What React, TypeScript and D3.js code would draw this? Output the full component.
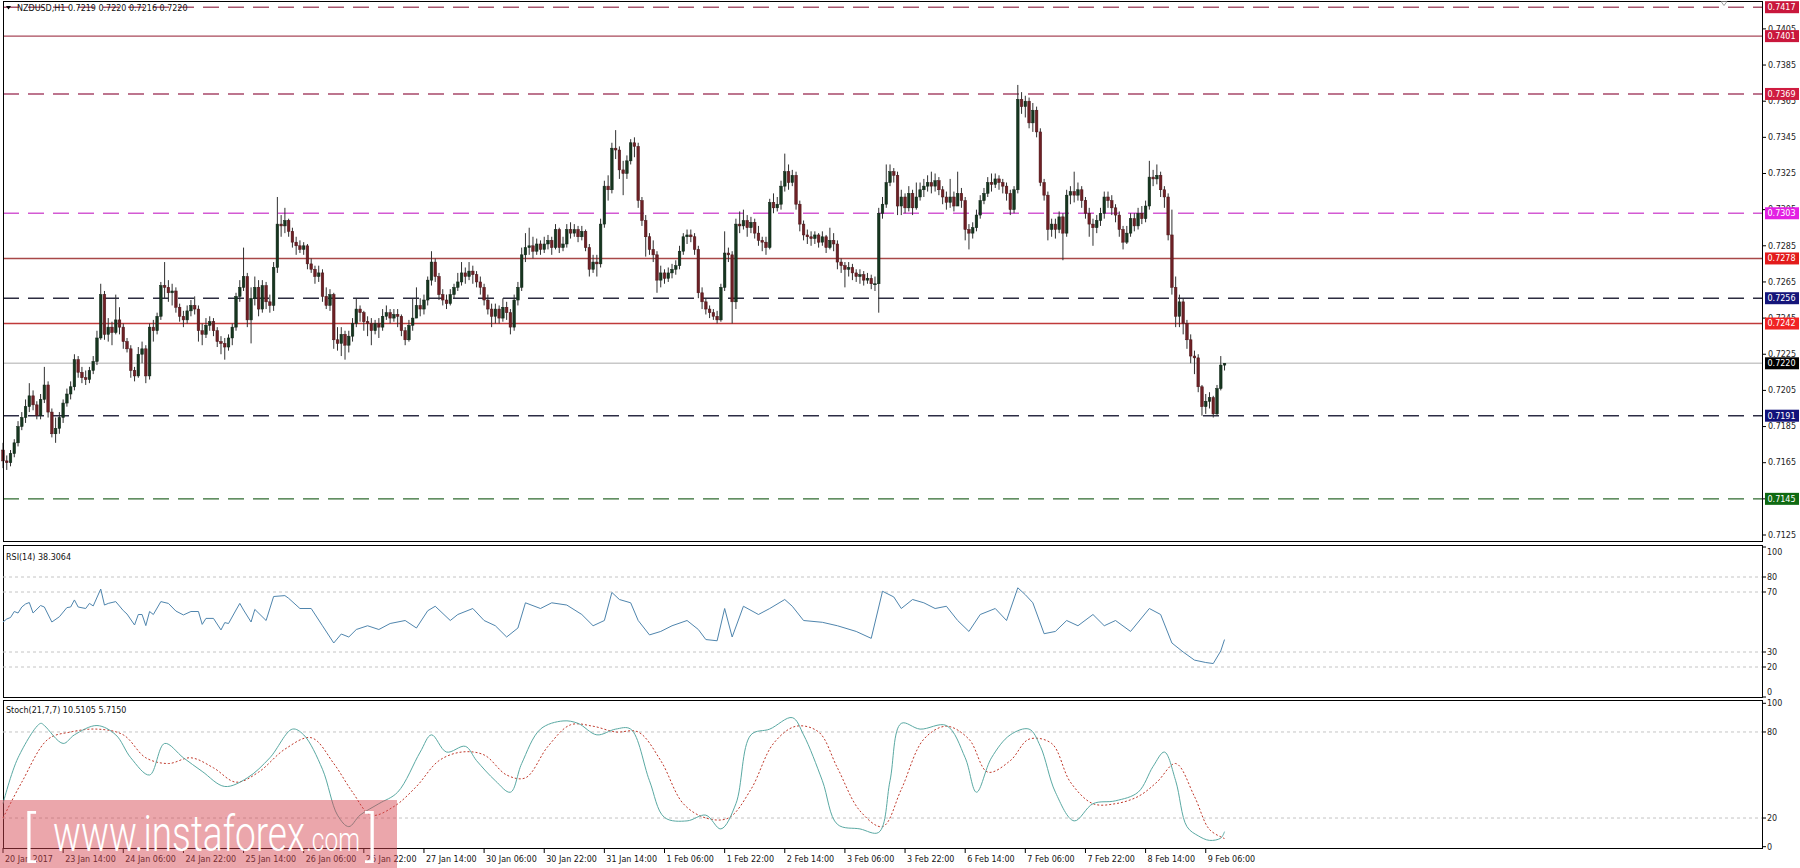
import React from 'react';
import * as d3 from 'd3';

// prices in pips (7220 = 0.7220); each candle opens at the previous close
const firstOpen = 7172;
const closePips = [
  7166, 7165, 7170, 7176, 7185, 7190, 7196, 7202, 7197, 7191,
  7200, 7208, 7193, 7181, 7184, 7190, 7198, 7203, 7207, 7222,
  7215, 7212, 7211, 7216, 7221, 7234, 7258, 7236, 7240, 7237,
  7244, 7240, 7232, 7228, 7216, 7213, 7225, 7228, 7213, 7240,
  7238, 7246, 7263, 7262, 7259, 7260, 7251, 7246, 7244, 7249,
  7252, 7250, 7238, 7236, 7241, 7243, 7238, 7232, 7231, 7229,
  7234, 7240, 7257, 7262, 7268, 7244, 7256, 7262, 7250, 7263,
  7254, 7252, 7273, 7297, 7296, 7299, 7293, 7287, 7285, 7283,
  7285, 7275, 7272, 7268, 7270, 7257, 7252, 7258, 7233, 7231,
  7236, 7230, 7235, 7242, 7250, 7248, 7243, 7242, 7238, 7242,
  7240, 7246, 7248, 7245, 7247, 7246, 7238, 7233, 7241, 7245,
  7252, 7250, 7255, 7266, 7276, 7268, 7258, 7255, 7253, 7258,
  7262, 7265, 7270, 7268, 7271, 7269, 7265, 7262, 7255, 7250,
  7246, 7250, 7245, 7251, 7248, 7240, 7255, 7262, 7280, 7284,
  7285, 7282, 7286, 7283, 7286, 7288, 7284, 7294, 7284, 7286,
  7294, 7292, 7294, 7290, 7293, 7284, 7272, 7276, 7275, 7297,
  7318, 7316, 7339, 7338, 7327, 7325, 7332, 7342, 7340, 7310,
  7299, 7290, 7283, 7280, 7266, 7270, 7267, 7270, 7272, 7274,
  7282, 7290, 7291, 7290, 7283, 7259, 7254, 7250, 7248, 7246,
  7244, 7262, 7281, 7280, 7254, 7297, 7296, 7299, 7295, 7298,
  7292, 7288, 7287, 7284, 7309, 7306, 7308, 7318, 7326, 7320,
  7324, 7308, 7297, 7291, 7290, 7289, 7291, 7287, 7290, 7284,
  7288, 7286, 7276, 7274, 7272, 7273, 7270, 7268, 7269, 7266,
  7267, 7264, 7264, 7303, 7308, 7320, 7326, 7324, 7307, 7312,
  7306, 7314, 7306, 7312, 7316, 7318, 7320, 7318, 7321, 7316,
  7312, 7309, 7312, 7307, 7314, 7310, 7294, 7292, 7295, 7302,
  7310, 7314, 7320, 7319, 7322, 7320, 7318, 7314, 7305, 7316,
  7366, 7362, 7365, 7353, 7360, 7348, 7320, 7313, 7294, 7297,
  7294, 7301, 7292, 7313, 7315, 7313, 7316, 7310, 7303, 7297,
  7295, 7299, 7303, 7312, 7310, 7306, 7302, 7294, 7287, 7292,
  7300, 7296, 7303, 7300, 7307, 7323, 7322, 7324, 7316, 7312,
  7291, 7262, 7246, 7254, 7242, 7233, 7224, 7223, 7207, 7196,
  7199, 7201, 7192, 7206, 7219, 7220,
];
const highPips = [
  7176, 7169, 7172, 7178, 7188, 7193, 7200, 7209, 7205, 7199,
  7203, 7218, 7210, 7195, 7190, 7193, 7200, 7206, 7210, 7225,
  7224, 7218, 7216, 7218, 7224, 7238, 7264, 7260, 7245, 7243,
  7258, 7251, 7242, 7234, 7230, 7218, 7229, 7232, 7230, 7242,
  7244, 7248, 7265, 7276, 7266, 7264, 7262, 7253, 7249, 7252,
  7255, 7257, 7252, 7242, 7245, 7246, 7245, 7240, 7235, 7234,
  7236, 7242, 7259, 7266, 7284, 7270, 7262, 7268, 7266, 7266,
  7265, 7258, 7276, 7312, 7302, 7306, 7300, 7295, 7290, 7288,
  7287, 7286, 7278, 7274, 7274, 7272, 7262, 7261, 7259, 7240,
  7240, 7238, 7238, 7245, 7256, 7252, 7249, 7246, 7245, 7244,
  7245, 7250, 7252, 7250, 7250, 7250, 7247, 7240, 7244, 7256,
  7262, 7256, 7258, 7268, 7282, 7278, 7270, 7261, 7258, 7261,
  7264, 7270, 7276, 7273, 7276, 7274, 7271, 7268, 7264, 7258,
  7253, 7253, 7252, 7256, 7254, 7250, 7258, 7265, 7284, 7292,
  7295, 7290, 7289, 7288, 7290, 7291, 7290, 7297, 7295, 7290,
  7297, 7298, 7297, 7296, 7296, 7294, 7286, 7280, 7280, 7300,
  7321, 7324, 7342, 7349, 7340, 7332, 7335, 7344, 7345, 7342,
  7312, 7302, 7292, 7288, 7282, 7274, 7272, 7273, 7275, 7277,
  7285, 7292, 7294, 7294, 7292, 7285, 7262, 7256, 7252, 7250,
  7249, 7264, 7293, 7284, 7282, 7300, 7304, 7305, 7302, 7301,
  7300, 7296, 7290, 7290, 7311, 7314, 7312, 7321, 7336, 7330,
  7327, 7326, 7310, 7299, 7294, 7293, 7293, 7292, 7293, 7291,
  7295, 7292, 7288, 7278, 7276, 7276, 7275, 7272, 7272, 7271,
  7270, 7269, 7268, 7306, 7312, 7330, 7330, 7328, 7326, 7316,
  7314, 7318, 7316, 7320, 7320, 7322, 7324, 7326, 7325, 7323,
  7318, 7315, 7322, 7315, 7326, 7317, 7312, 7297, 7298, 7305,
  7313, 7317, 7323, 7325, 7325, 7324, 7322, 7320, 7316, 7318,
  7374, 7370, 7368, 7367, 7364, 7362, 7350, 7322, 7315, 7300,
  7300, 7304, 7303, 7316, 7318, 7326, 7320, 7318, 7312, 7306,
  7300, 7302, 7306, 7315, 7315, 7313, 7308, 7304, 7296, 7296,
  7303, 7303, 7306, 7307, 7310, 7332, 7327, 7330, 7326, 7318,
  7314, 7305, 7268, 7258, 7256, 7244, 7236, 7227, 7225, 7208,
  7203, 7204, 7202, 7208, 7224, 7220,
];
const lowPips = [
  7162, 7161, 7163, 7168, 7174, 7183, 7187, 7193, 7194, 7189,
  7189, 7198, 7190, 7179, 7176, 7181, 7187, 7196, 7200, 7205,
  7212, 7209, 7208, 7209, 7214, 7219, 7233, 7233, 7232, 7230,
  7236, 7236, 7228, 7226, 7212, 7210, 7212, 7220, 7209, 7211,
  7232, 7236, 7244, 7256, 7254, 7252, 7248, 7243, 7240, 7242,
  7246, 7247, 7232, 7230, 7234, 7238, 7235, 7229, 7225, 7222,
  7227, 7230, 7238, 7254, 7260, 7240, 7231, 7252, 7246, 7248,
  7250, 7248, 7249, 7270, 7290, 7292, 7290, 7284, 7280, 7281,
  7280, 7272, 7270, 7264, 7265, 7254, 7250, 7249, 7228, 7227,
  7224, 7222, 7226, 7232, 7240, 7243, 7238, 7235, 7230, 7236,
  7234, 7238, 7244, 7242, 7243, 7240, 7235, 7230, 7232, 7238,
  7248, 7246, 7247, 7252, 7263, 7265, 7255, 7252, 7250, 7252,
  7256, 7260, 7263, 7264, 7266, 7264, 7262, 7258, 7252, 7247,
  7240, 7242, 7242, 7243, 7244, 7236, 7238, 7252, 7260, 7276,
  7280, 7278, 7280, 7280, 7281, 7283, 7280, 7283, 7281, 7282,
  7284, 7289, 7290, 7287, 7288, 7282, 7268, 7270, 7268, 7273,
  7295, 7310, 7314, 7333, 7322, 7313, 7322, 7330, 7334, 7306,
  7296, 7279, 7280, 7276, 7259, 7262, 7264, 7265, 7267, 7269,
  7272, 7280, 7286, 7287, 7280, 7256, 7250, 7247, 7245, 7244,
  7242, 7243, 7260, 7276, 7242, 7250, 7292, 7294, 7290, 7292,
  7289, 7285, 7282, 7280, 7283, 7303, 7304, 7305, 7315, 7316,
  7318, 7305, 7293, 7288, 7286, 7285, 7286, 7284, 7285, 7281,
  7283, 7282, 7272, 7270, 7262, 7268, 7266, 7265, 7264, 7263,
  7264, 7261, 7260, 7248, 7300, 7306, 7318, 7320, 7302, 7302,
  7303, 7304, 7302, 7305, 7310, 7312, 7315, 7314, 7315, 7313,
  7308, 7305, 7306, 7304, 7309, 7306, 7288, 7283, 7289, 7293,
  7300, 7308, 7312, 7315, 7317, 7316, 7314, 7310, 7302, 7303,
  7314, 7358, 7356, 7350, 7348, 7345, 7318, 7310, 7288, 7290,
  7289, 7292, 7277, 7290, 7308, 7309, 7310, 7306, 7300, 7290,
  7285, 7292, 7296, 7300, 7306, 7302, 7298, 7290, 7283, 7286,
  7290, 7293, 7294, 7297, 7298, 7305, 7318, 7319, 7312, 7306,
  7288, 7258, 7240, 7240, 7236, 7228, 7220, 7214, 7204, 7191,
  7192, 7195, 7190, 7191, 7205, 7216,
];

// one time label every 16 hourly bars
const timeLabels = [
  '20 Jan 2017', '23 Jan 14:00', '24 Jan 06:00', '24 Jan 22:00', '25 Jan 14:00',
  '26 Jan 06:00', '26 Jan 22:00', '27 Jan 14:00', '30 Jan 06:00', '30 Jan 22:00',
  '31 Jan 14:00', '1 Feb 06:00', '1 Feb 22:00', '2 Feb 14:00', '3 Feb 06:00',
  '3 Feb 22:00', '6 Feb 14:00', '7 Feb 06:00', '7 Feb 22:00', '8 Feb 14:00',
  '9 Feb 06:00',
];
const barsPerLabel = 16;

const priceTicks = [0.7405, 0.7385, 0.7365, 0.7345, 0.7325, 0.7305, 0.7285, 0.7265,
  0.7245, 0.7225, 0.7205, 0.7185, 0.7165, 0.7145, 0.7125];

const levelPrices = [0.7417, 0.7401, 0.7369, 0.7303, 0.7278, 0.7256, 0.7242, 0.7220, 0.7191, 0.7145];
const levelStyles = [
  { line: '#a8566e', dash: '16,9', box: '#c9173c' },
  { line: '#a8485a', dash: '', box: '#c9173c' },
  { line: '#a8486a', dash: '16,9', box: '#cf1c40' },
  { line: '#d35ad3', dash: '16,9', box: '#e31fe3' },
  { line: '#a84848', dash: '', box: '#e31b1b' },
  { line: '#2c2c40', dash: '16,9', box: '#15157a' },
  { line: '#c03a3a', dash: '', box: '#f02424' },
  { line: '#c8c8c8', dash: '', box: '#000000' },
  { line: '#2c2c44', dash: '16,9', box: '#12127a' },
  { line: '#2f6b2f', dash: '16,9', box: '#0f6a12' },
];

const rsiBars = [0, 1, 2, 3, 4, 5, 6, 7, 8, 10, 11, 13, 15, 17, 18, 19, 20, 22, 23, 24, 26, 27, 28, 30, 32, 33, 35, 36, 37, 38, 39, 40, 42, 44, 46, 48, 50, 52, 53, 54, 56, 58, 59, 60, 62, 63, 64, 66, 67, 70, 72, 75, 76, 79,
  82, 85, 88, 90, 92, 94, 97, 100, 103, 107, 110, 113, 115, 119, 121, 125, 128, 131, 134, 137, 139, 143, 146, 150, 154, 157, 160, 162, 164, 167, 169, 172, 175, 178, 182, 185, 187, 190, 192, 194, 197, 201, 204, 208, 210, 213, 218, 222, 227, 231, 234, 237, 239, 242, 245, 248, 251, 254, 257, 260, 264, 267, 270, 272, 274, 277, 280, 283, 286, 290, 293, 296, 300, 305, 308, 311, 314, 317, 320, 322, 324, 325];
const rsiValues = [50, 52, 53, 57, 56, 60, 62, 63, 56, 61, 60, 50, 53.5, 59.6, 60, 64.7, 60, 59, 62.4, 60.7, 72, 61.3, 62.4, 63.6, 57.6, 55.3, 48, 55, 55, 47.6, 57, 55, 63.6, 62.4, 57.3, 54.7, 57, 57, 48.4, 52.4, 52.4, 44.7, 49.6, 49, 58, 62.4, 58, 50, 58.4, 51, 67, 67.6, 65.8, 59,
  59, 47.5, 36, 42, 40, 45, 47.5, 45, 49, 51, 46, 57.5, 60.5, 51, 55, 59, 51, 47.5, 40, 46, 62.8, 59, 62.8, 61.3, 55, 47.5, 51, 69.7, 65, 62.8, 51, 41.4, 43.7, 47.5, 51, 45, 38.3, 37.5, 59, 40, 60.5, 55, 59, 65, 60.5, 51, 49.8, 47.5, 43.7, 39.1, 70.5, 66.7, 59, 65, 62.8, 59, 60.5, 51, 43.7, 55, 59, 51, 72.8, 68.2, 62.8, 42.2, 43.7, 51, 47.5, 55, 47.5, 51, 43.7, 59, 55, 36, 30, 24.6, 23, 22.3, 30.7, 38.3];
const rsiLevels = [80, 70, 30, 20];
const rsiAxis = [100, 80, 70, 30, 20, 0];

const stochBars = [0, 4, 10, 11, 16, 19, 25, 30, 34, 39, 43, 48, 53, 59, 65, 71, 77, 80, 85, 89, 92, 95, 100, 105, 111, 114, 118, 123, 126, 131, 135, 138, 143, 149, 153, 158, 163, 167, 172, 176, 182, 187, 191, 195, 199, 204, 210, 213, 218, 222, 228, 233, 236, 239, 244, 251, 256, 259, 263, 268, 273, 276, 280, 285, 290, 296, 302, 306, 309, 312, 315, 318, 321, 324, 325];
const stochMain = [30, 62, 86, 84.5, 72, 78, 84.5, 78, 62, 50, 72, 62, 52.5, 42, 48, 62, 82, 78, 54, 22, 14, 22, 30, 38, 66, 78, 66, 70, 60, 46, 38, 58, 82, 87.7, 86, 78, 82, 82, 46, 20.4, 18, 22, 12.4, 30, 78, 82, 90, 78, 46, 15.6, 12.4, 10, 46, 86, 82, 84.5, 62, 38, 62, 78, 82, 70, 38, 18, 30, 32, 38, 56, 66, 46, 14, 7.6, 4.4, 6, 10.5];
const signalBars = [0, 5, 12, 18, 25, 32, 38, 44, 50, 56, 62, 68, 75, 82, 88, 93, 98, 104, 110, 116, 122, 128, 134, 139, 145, 151, 157, 163, 169, 175, 181, 187, 193, 199, 205, 211, 217, 222, 228, 234, 239, 245, 251, 257, 262, 268, 273, 279, 284, 290, 296, 302, 307, 312, 317, 321, 325];
const stochSignal = [20, 45, 75, 80, 82, 78, 62, 58, 62, 55, 45, 52, 68, 76, 58, 38, 22, 28, 42, 60, 66, 64, 50, 48, 70, 85, 84, 80, 80, 60, 30, 20, 20, 40, 72, 84, 80, 55, 25, 14, 40, 75, 84, 75, 52, 60, 75, 72, 45, 30, 30, 35, 45, 58, 35, 12, 5.7];
const stochLevels = [80, 20];
const stochAxis = [100, 80, 20, 0];

const FONT = "'DejaVu Sans', Verdana, sans-serif";

const App: React.FC = () => {
  const W = 1800;
  const H = 868;
  const left = 3;
  const right = 1762;
  const main = { top: 1, bottom: 541 };
  const rsiBox = { top: 545, bottom: 697 };
  const stBox = { top: 700, bottom: 848 };

  const x = d3.scaleLinear().domain([0, 468]).range([left, right]);
  const yP = d3.scaleLinear().domain([0.7125, 0.7417]).range([535, 7.2]);
  const yR = d3.scaleLinear().domain([0, 100]).range([697, 547]);
  const yS = d3.scaleLinear().domain([0, 100]).range([846.7, 703.3]);

  const candles = closePips.map((c, i) => ({
    i,
    o: (i === 0 ? firstOpen : closePips[i - 1]) / 10000,
    h: highPips[i] / 10000,
    l: lowPips[i] / 10000,
    c: c / 10000,
  }));

  const rsiLine = d3.line<number>().x((_, i) => x(rsiBars[i])).y((v) => yR(v));
  const mainLine = d3.line<number>().x((_, i) => x(stochBars[i])).y((v) => yS(v)).curve(d3.curveCatmullRom);
  const sigLine = d3.line<number>().x((_, i) => x(signalBars[i])).y((v) => yS(v)).curve(d3.curveCatmullRom);

  const bodyW = 2.6;
  const fs = 8;

  return (
    <svg width={W} height={H} style={{ position: 'absolute', left: 0, top: 0, background: '#fff' }}
      fontFamily={FONT}>
      <rect x={0} y={0} width={W} height={H} fill="#fff" />

      {/* price levels */}
      {levelPrices.map((p, k) => (
        <line key={'lv' + k} x1={left} x2={right} y1={yP(p)} y2={yP(p)}
          stroke={levelStyles[k].line} strokeWidth={1.4}
          strokeDasharray={levelStyles[k].dash || undefined} />
      ))}

      {/* candles */}
      {candles.map((d) => {
        const cx = x(d.i);
        const up = d.c >= d.o;
        const top = yP(Math.max(d.o, d.c));
        const bot = yP(Math.min(d.o, d.c));
        return (
          <g key={'c' + d.i}>
            <line x1={cx} x2={cx} y1={yP(d.h)} y2={yP(d.l)} stroke="#303030" strokeWidth={1} />
            <rect x={cx - bodyW / 2} y={top} width={bodyW} height={Math.max(1, bot - top)}
              fill={up ? '#16361f' : '#6e2025'} stroke={up ? '#0f2416' : '#4a1518'} strokeWidth={0.5} />
          </g>
        );
      })}

      {/* panel frames */}
      <rect x={left + 0.5} y={main.top + 0.5} width={right - left} height={main.bottom - main.top}
        fill="none" stroke="#000" strokeWidth={1} />
      <rect x={left + 0.5} y={rsiBox.top + 0.5} width={right - left} height={rsiBox.bottom - rsiBox.top}
        fill="none" stroke="#000" strokeWidth={1} />
      <rect x={left + 0.5} y={stBox.top + 0.5} width={right - left} height={stBox.bottom - stBox.top}
        fill="none" stroke="#000" strokeWidth={1} />

      {/* header */}
      <path d="M6,6 L11,6 L8.5,9.5 Z" fill="#000" />
      <text x={17} y={11} fontSize={fs} fill="#111">NZDUSD,H1 0.7219 0.7220 0.7216 0.7220</text>
      <path d="M1721,1.5 L1727,1.5 L1724,5.5 Z" fill="none" stroke="#888" strokeWidth={0.8} />

      {/* price axis */}
      {priceTicks.map((p) => (
        <g key={'pt' + p}>
          <line x1={right} x2={right + 4} y1={yP(p)} y2={yP(p)} stroke="#000" />
          <text x={right + 6} y={yP(p)} dy="0.35em" fontSize={fs} fill="#222">{p.toFixed(4)}</text>
        </g>
      ))}
      {levelPrices.map((p, k) => (
        <g key={'lb' + k}>
          <rect x={1765} y={yP(p) - 6} width={34} height={12} fill={levelStyles[k].box} />
          <text x={1767.5} y={yP(p)} dy="0.35em" fontSize={fs} fill="#fff">{p.toFixed(4)}</text>
        </g>
      ))}

      {/* RSI */}
      {rsiLevels.map((v) => (
        <line key={'rl' + v} x1={left} x2={right} y1={yR(v)} y2={yR(v)} stroke="#c4c4c4" strokeDasharray="3,3" />
      ))}
      <path d={rsiLine(rsiValues) || ''} fill="none" stroke="#4f85ad" strokeWidth={1} />
      <text x={6} y={560} fontSize={fs} fill="#111">RSI(14) 38.3064</text>
      {rsiAxis.map((v) => (
        <g key={'ra' + v}>
          <line x1={right} x2={right + 4} y1={yR(v)} y2={yR(v)} stroke="#000" />
          <text x={right + 5} y={Math.min(Math.max(yR(v), 552), 692)} dy="0.35em" fontSize={fs} fill="#222">{v}</text>
        </g>
      ))}

      {/* Stochastic */}
      {stochLevels.map((v) => (
        <line key={'sl' + v} x1={left} x2={right} y1={yS(v)} y2={yS(v)} stroke="#c4c4c4" strokeDasharray="3,3" />
      ))}
      <path d={sigLine(stochSignal) || ''} fill="none" stroke="#c0392b" strokeWidth={1} strokeDasharray="2,2" />
      <path d={mainLine(stochMain) || ''} fill="none" stroke="#5aa9a3" strokeWidth={1} />
      <text x={6} y={713} fontSize={fs} fill="#111">Stoch(21,7,7) 10.5105 5.7150</text>
      {stochAxis.map((v) => (
        <g key={'sa' + v}>
          <line x1={right} x2={right + 4} y1={yS(v)} y2={yS(v)} stroke="#000" />
          <text x={right + 5} y={yS(v)} dy="0.35em" fontSize={fs} fill="#222">{v}</text>
        </g>
      ))}

      {/* time axis */}
      {timeLabels.map((t, k) => {
        const tx = x(k * barsPerLabel);
        return (
          <g key={'tl' + k}>
            <line x1={tx} x2={tx} y1={stBox.bottom} y2={stBox.bottom + 5} stroke="#000" />
            <text x={tx + 2} y={862} fontSize={fs} fill="#111">{t}</text>
          </g>
        );
      })}

      {/* watermark */}
      <rect x={0} y={800} width={397} height={68} fill="rgb(214,70,80)" fillOpacity={0.48} />
      <g fill="#fff" fontFamily="Roboto, 'Open Sans', sans-serif" fontWeight={300}>
        <text x={23} y={855} fontSize={54}>[</text>
        <text x={53} y={851} fontSize={50} textLength={252} lengthAdjust="spacingAndGlyphs">www.instaforex</text>
        <text x={306} y={851} fontSize={34} textLength={54} lengthAdjust="spacingAndGlyphs">.com</text>
        <text x={365} y={855} fontSize={54}>]</text>
      </g>
    </svg>
  );
};

export default App;
